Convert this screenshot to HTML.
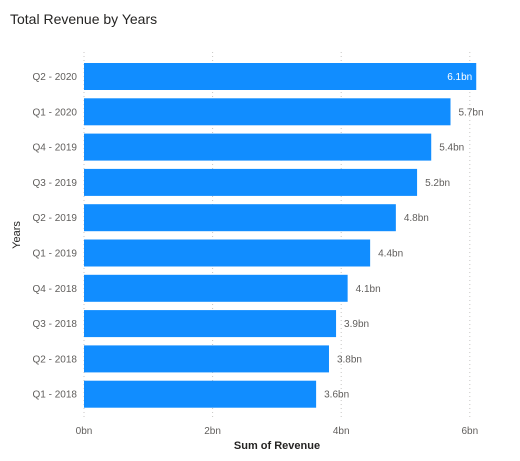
<!DOCTYPE html>
<html><head><meta charset="utf-8"><style>
body{margin:0;background:#fff;width:520px;height:456px;overflow:hidden;font-family:"Liberation Sans",sans-serif}
</style></head><body>
<svg width="520" height="456" id="chart">
<text x="10" y="24" font-size="14" fill="#252423">Total Revenue by Years</text>
<text transform="translate(20,235) rotate(-90)" text-anchor="middle" font-size="11" fill="#252423">Years</text>
<text x="277" y="449" text-anchor="middle" font-size="11" font-weight="bold" fill="#252423">Sum of Revenue</text>
<g id="grid"></g><g id="bars"></g>
</svg>
<script>
const categories=["Q2 - 2020","Q1 - 2020","Q4 - 2019","Q3 - 2019","Q2 - 2019","Q1 - 2019","Q4 - 2018","Q3 - 2018","Q2 - 2018","Q1 - 2018"];
const values=[6.1,5.7,5.4,5.18,4.85,4.45,4.1,3.92,3.81,3.61];
const valueLabels=["6.1bn","5.7bn","5.4bn","5.2bn","4.8bn","4.4bn","4.1bn","3.9bn","3.8bn","3.6bn"];
const ticks=[0,2,4,6];
const tickLabels=["0bn","2bn","4bn","6bn"];
const NS="http://www.w3.org/2000/svg";
const x=v=>84+v*64.3;
const y=i=>63+i*35.3;
function mk(t,a,p){const e=document.createElementNS(NS,t);for(const k in a)e.setAttribute(k,a[k]);p.appendChild(e);return e;}
const g=document.getElementById('grid'),b=document.getElementById('bars');
ticks.forEach((t,i)=>{
 const l=mk('line',{x1:x(t),x2:x(t),y1:52,y2:420,stroke:'#c8c6c4','stroke-dasharray':'1,3'},g);
 
 
 const tx=mk('text',{x:x(t),y:434,'text-anchor':'middle','font-size':10,fill:'#605e5c'},g);
 tx.textContent=tickLabels[i];
 
 
});
categories.forEach((c,i)=>{
 const r=mk('rect',{x:x(0),y:y(i),width:x(values[i])-x(0),height:27,fill:'#118dff'},b);
 
 
 const yl=mk('text',{x:77,y:y(i)+17,'text-anchor':'end','font-size':10,fill:'#605e5c'},b);
 yl.textContent=c;
 
 
 const inside=i===0;
 const vl=mk('text',{x:inside?x(values[i])-4:x(values[i])+8,y:y(i)+17,'text-anchor':inside?'end':'start','font-size':10,fill:inside?'#fff':'#605e5c'},b);
 vl.textContent=valueLabels[i];
 
 
});
</script>
</body></html>
